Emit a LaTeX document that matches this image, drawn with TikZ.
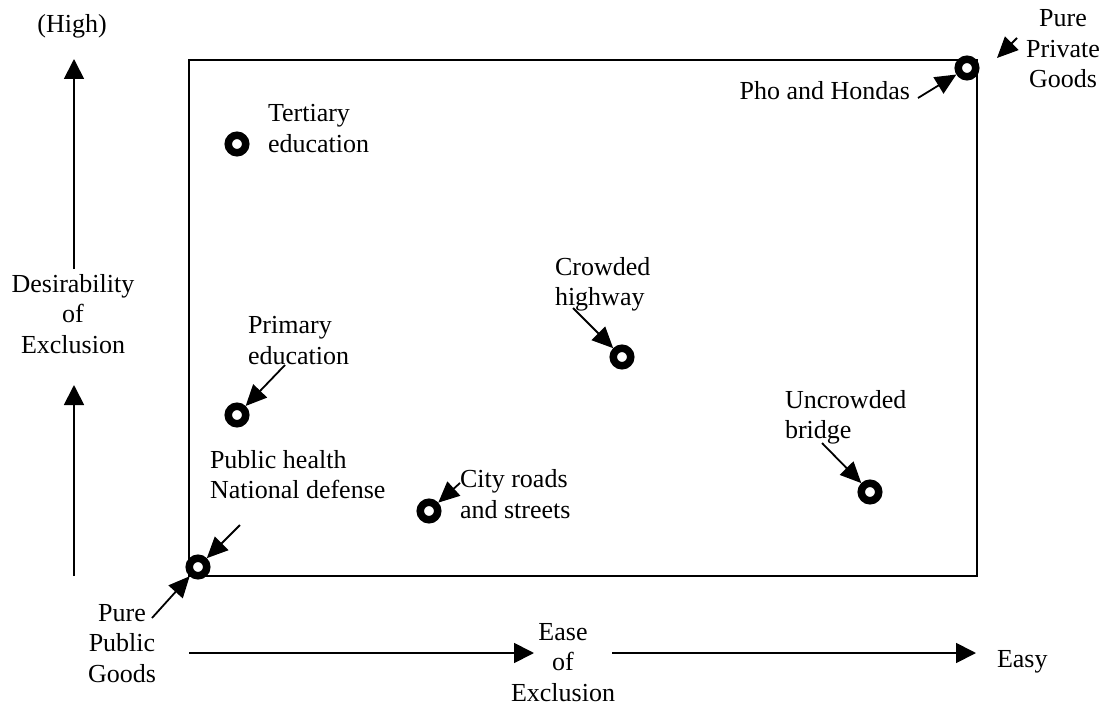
\documentclass[tikz,border=0pt]{standalone}
\usepackage{fontspec}
\setmainfont{Liberation Serif}
\usetikzlibrary{arrows.meta}
\begin{document}
\begin{tikzpicture}[x=1pt,y=-1pt,
  lbl/.style={font=\fontsize{26}{30.5}\selectfont, inner sep=0pt, outer sep=0pt},
  lblc/.style={lbl, align=center, anchor=base},
  lbll/.style={lbl, align=left, anchor=base west},
  ring/.style={circle, draw=black, line width=7.5pt, minimum size=17.5pt, inner sep=0pt, fill=white},
  axis/.style={line width=1.8pt, -{Triangle[length=20pt,width=20pt]}},
  ptr/.style={line width=1.8pt, -{Triangle[length=21pt,width=19pt]}},
  frame/.style={line width=1.8pt}]
\useasboundingbox (0,0) rectangle (1109,706);

% frame
\draw[frame] (189,60) rectangle (977,576);

% axes
\coordinate (vlowA) at (74,576);
\coordinate (vlowB) at (74,385);
\coordinate (vupA) at (74,269);
\coordinate (vupB) at (74,59);
\coordinate (hA1) at (189,653);
\coordinate (hB1) at (534,653);
\coordinate (hA2) at (612,653);
\coordinate (hB2) at (976,653);
\draw[axis] (vlowA) -- (vlowB);
\draw[axis] (vupA) -- (vupB);
\draw[axis] (hA1) -- (hB1);
\draw[axis] (hA2) -- (hB2);

% axis labels (base anchor = baseline of the last line)
\node[lblc] (high) at (72,33) {(High)};
\node[lblc] (desir) at (73,353) {Desirability\\of\\Exclusion};
\node[lblc] (ease) at (563,701) {Ease\\of\\Exclusion};
\node[lbl, anchor=base west] (easy) at (997,667) {Easy};
\node[lblc] (pubg) at (122,682) {Pure\\Public\\Goods};
\node[lblc] (privg) at (1063,88) {Pure\\Private\\Goods};

% rings
\node[ring] (ppub) at (198,567) {};
\node[ring] (ppriv) at (967,68) {};
\node[ring] (tert) at (237,144) {};
\node[ring] (prim) at (237,415) {};
\node[ring] (city) at (429,511) {};
\node[ring] (crowd) at (622,357) {};
\node[ring] (uncr) at (870,492) {};

% labels
\node[lbll] (tertl) at (268,152.5) {Tertiary\\education};
\node[lbll] (priml) at (248,364) {Primary\\education};
\node[lbll] (crowdl) at (555,305.5) {Crowded\\highway};
\node[lbll] (uncrl) at (785,438.5) {Uncrowded\\bridge};
\node[lbll] (cityl) at (460,518) {City roads\\and streets};
\node[lbll] (pubhl) at (210,498.5) {Public health\\National defense};
\node[lbl, anchor=base east] (phol) at (910,100) {Pho and Hondas};

% pointer tails
\coordinate (tPub) at (152,618);
\coordinate (tHealth) at (240,525);
\coordinate (tPrim) at (285,365);
\coordinate (tCity) at (460,483);
\coordinate (tCrowd) at (573,308);
\coordinate (tUncr) at (822,443);
\coordinate (tPho) at (918,98);
\coordinate (tPriv) at (1017,38);
\coordinate (hPriv) at (997,58);

\draw[ptr] (tPub) -- (ppub);
\draw[ptr] (tHealth) -- (ppub);
\draw[ptr] (tPrim) -- (prim);
\draw[ptr] (tCity) -- (city);
\draw[ptr] (tCrowd) -- (crowd);
\draw[ptr] (tUncr) -- (uncr);
\draw[ptr] (tPho) -- (ppriv);
\draw[ptr] (tPriv) -- (hPriv);
\end{tikzpicture}
\end{document}
